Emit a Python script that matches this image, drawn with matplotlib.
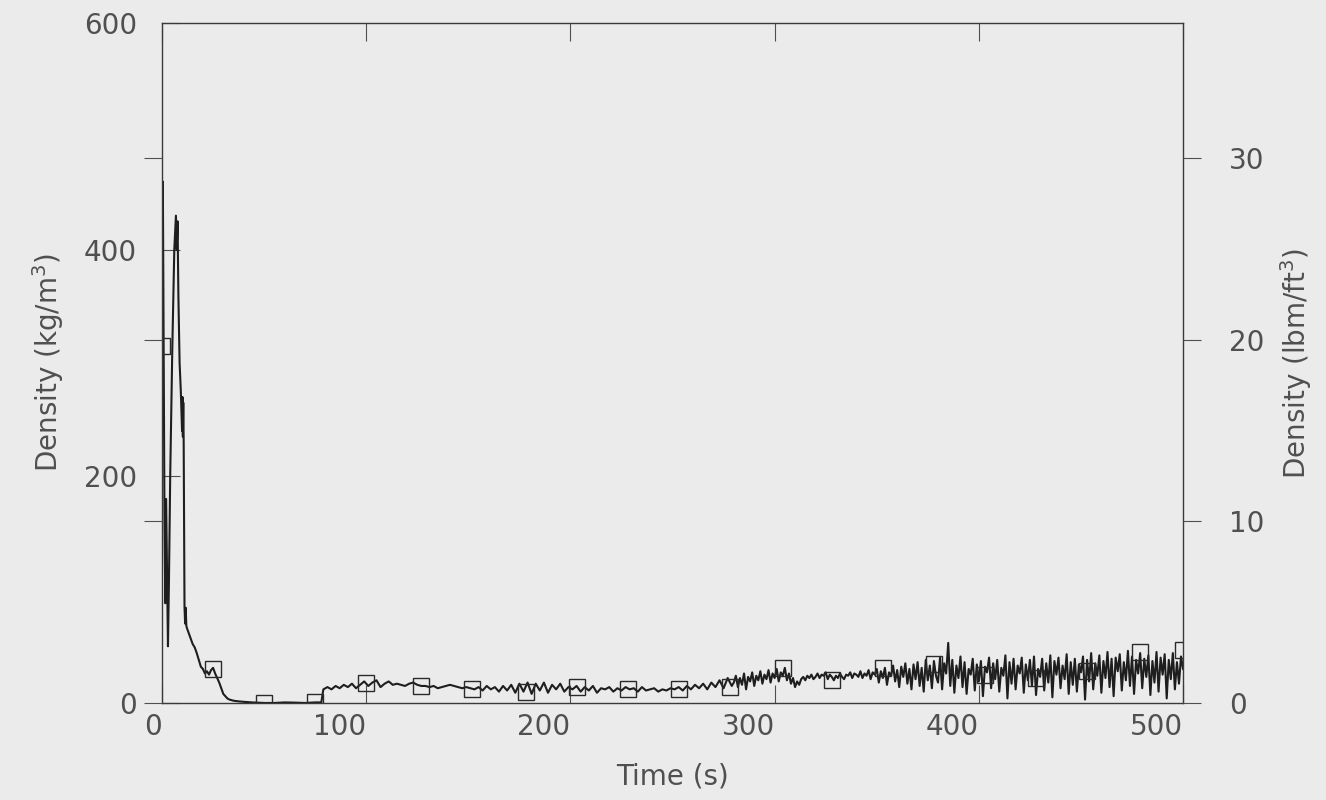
import numpy as np
import matplotlib
matplotlib.use("Agg")
import matplotlib.pyplot as plt

KG_PER_LBM_FT3 = 16.018

# early transient (blowdown peaks and decay), time in s, density in kg/m3
t_early = [0, 0.4, 0.8, 1.2, 1.6, 2.0, 2.4, 2.9, 3.4, 4.0,
           5.0, 6.0, 6.8, 7.2, 7.6, 8.0, 8.6, 9.2, 9.8, 10.0,
           10.2, 10.4, 10.6, 10.8, 11.0, 11.3, 11.6, 11.9, 12.2, 13,
           14, 15, 16, 17, 18, 19, 20, 21, 22, 23,
           24, 25, 26, 27, 28, 29, 30, 31, 32, 33,
           35, 37, 40, 44, 50, 55, 60, 65, 70, 75, 78]
rho_early = [310, 460, 300, 160, 88, 180, 120, 50, 110, 200,
             310, 400, 430, 400, 425, 360, 300, 275, 240, 270,
             235, 265, 230, 160, 85, 70, 84, 68, 66, 62,
             57, 52, 49, 44, 38, 32, 30, 26, 28, 25,
             29, 31, 26, 22, 18, 13, 8, 6, 4, 3,
             2, 1.5, 1, 0.5, 0, 0, 0.5, 0.3, 0, 0.5, 0.5]

# 79 s .. 279 s, every 2 s
t_mid = np.arange(79, 280, 2)
rho_mid = [12, 14, 12, 15, 13, 16, 14, 17, 13, 16,
           19, 15, 18, 20, 14, 17, 19, 16, 17, 16,
           15, 17, 18, 16, 15, 15, 14, 15, 13, 14,
           15, 16, 15, 14, 13, 14, 13, 12, 14, 11,
           15, 12, 14, 10, 15, 11, 16, 9, 17, 10,
           18, 8, 17, 11, 18, 9, 16, 12, 17, 10,
           14, 12, 15, 10, 14, 11, 15, 9, 13, 12,
           14, 10, 13, 11, 14, 12, 13, 10, 14, 11,
           12, 13, 10, 12, 11, 13, 12, 14, 11, 15,
           12, 16, 13, 17, 12, 18, 14, 20, 13, 22,
           15]

# 280 s .. 379 s, every 1 s
t_late = np.arange(280, 380, 1)
rho_late = [18, 24, 14, 22, 16, 26, 12, 23, 19, 27,
            15, 24, 20, 28, 17, 25, 21, 29, 18, 26,
            22, 30, 19, 27, 24, 31, 20, 26, 17, 22,
            14, 19, 16, 21, 23, 20, 24, 22, 25, 21,
            23, 26, 22, 25, 24, 27, 21, 25, 23, 20,
            24, 22, 26, 23, 21, 25, 24, 27, 22, 26,
            25, 23, 28, 22, 26, 24, 29, 21, 27, 25,
            30, 18, 28, 22, 31, 16, 27, 24, 33, 19,
            29, 14, 32, 23, 35, 17, 30, 12, 34, 21,
            36, 15, 31, 10, 38, 20, 33, 13, 37, 24]

# 380 s .. 500 s, every 1 s
t_end = np.arange(380, 501, 1)
rho_end = [18, 40, 12, 35, 26, 53, 15, 38, 9, 33,
           22, 41, 14, 36, 8, 30, 25, 39, 11, 34,
           19, 37, 6, 32, 27, 40, 13, 35, 21, 38,
           10, 31, 24, 42, 4, 36, 17, 39, 12, 33,
           26, 40, 9, 34, 20, 38, 15, 41, 7, 30,
           23, 39, 11, 35, 18, 42, 5, 37, 25, 40,
           13, 33, 21, 43, 8, 36, 16, 39, 10, 34,
           27, 41, 3, 38, 19, 44, 12, 35, 24, 42,
           9, 37, 22, 45, 14, 39, 6, 40, 28, 43,
           11, 36, 20, 46, 15, 41, 8, 38, 26, 44,
           13, 39, 23, 42, 7, 37, 18, 45, 10, 40,
           25, 43, 4, 38, 21, 44, 12, 36, 17, 41,
           30]

# square symbols (roughly every 25 s)
t_marks = [0, 25, 50, 75, 100, 127, 152, 178, 203, 228, 253,
           278, 304, 328, 353, 378, 403, 428, 453, 479, 500]
rho_marks = [315, 30, 0, 1, 18, 15, 12, 10, 14, 12, 12,
             14, 31, 20, 31, 34, 25, 22, 28, 45, 47]

t = np.concatenate([t_early, t_mid, t_late, t_end])
rho = np.concatenate([rho_early, rho_mid, rho_late, rho_end])

plt.rcParams['font.family'] = ['DejaVu Sans']
txt = '#505050'
bg = '#ebebeb'

fig = plt.figure(figsize=(13.26, 8), dpi=100, facecolor=bg)
ax = fig.add_axes([0.1222, 0.1213, 0.77, 0.85])
ax.set_facecolor(bg)

ax.plot(t, rho, color='#1e1e1e', lw=1.5)
ax.plot(t_marks, rho_marks, ls='none', marker='s', ms=12,
        mfc='none', mec='#2a2a2a', mew=1.0)

ax.set_xlim(0, 500)
ax.set_ylim(0, 600)
ax.set_xticks([0, 100, 200, 300, 400, 500])
ax.set_yticks([0, 200, 400, 600])
# the old plot has its time labels set flush right against each tick
for lab in ax.get_xticklabels():
    lab.set_ha('right')
ax.tick_params(axis='x', direction='in', length=13, top=True, pad=7,
               labelsize=20, colors=txt)
ax.tick_params(axis='y', direction='in', length=13, right=True, pad=18,
               labelsize=20, colors=txt)
for s in ax.spines.values():
    s.set_color('#3a3a3a')
    s.set_linewidth(1.0)

ax.set_xlabel('Time (s)', fontsize=20, color=txt, labelpad=16)
ax.set_ylabel('Density (kg/m$^3$)', fontsize=20, color=txt, labelpad=13)

ax2 = ax.twinx()
ax2.set_ylim(0, 600 / KG_PER_LBM_FT3)
ax2.set_yticks([0, 10, 20, 30])
ax2.tick_params(axis='y', direction='out', length=13, left=True, pad=20,
                labelsize=20, colors=txt)
for s in ax2.spines.values():
    s.set_visible(False)
ax2.set_ylabel('Density (lbm/ft$^3$)', fontsize=20, color=txt, labelpad=10)

fig.savefig('out.png', dpi=100, facecolor=bg)
